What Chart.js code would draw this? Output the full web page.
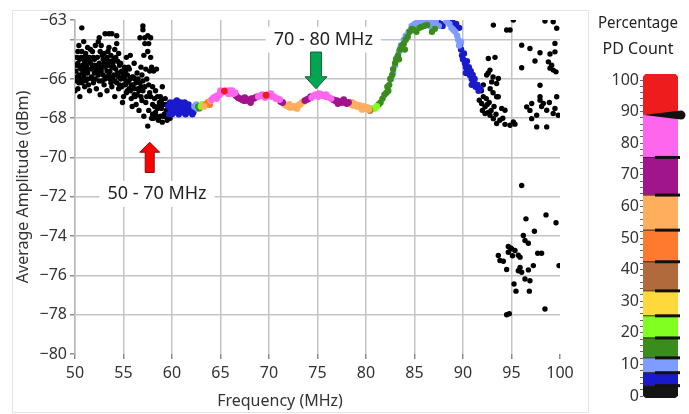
<!DOCTYPE html>
<html>
<head>
<meta charset="utf-8">
<script src="https://cdn.jsdelivr.net/npm/chart.js@4.4.1/dist/chart.umd.min.js"></script>
<style>
    body { margin: 0; background: #fff; }
    #wrap { position: relative; width: 689px; height: 414px; overflow: hidden; }
    #panel { position: absolute; left: 12px; top: 10px; width: 577px; height: 403px; border: 1px solid #e4e4e4; box-sizing: border-box; }
    #boxMain { position: absolute; left: 0; top: 0; width: 590px; height: 414px; }
    #boxBar { position: absolute; left: 598px; top: 0; width: 91px; height: 414px; }
</style>
</head>
<body>
<div id="wrap">
    <div id="panel"></div>
    <div id="boxMain"><canvas id="grafico"></canvas></div>
    <div id="boxBar"><canvas id="escala"></canvas></div>
</div>
<script>
// ticks
const xTicks = [50, 55, 60, 65, 70, 75, 80, 85, 90, 95, 100];
const yTicks = [-80, -78, -76, -74, -72, -70, -68, -66, -64, -63];

// colour scale of the PD count (percent)
const scaleEdges = [0, 3.3, 7.4, 12.1, 18.4, 25.4, 33.3, 42.5, 52.5, 63.6, 75.5, 88.9, 100];
const scaleColors = ['#151515', '#1a1acd', '#7f9cff', '#3a8c1c', '#80ff20', '#ffd93b', '#b06a3b', '#ff7a2e', '#ffae5e', '#a0148c', '#ff66ee', '#ee1c1c'];
const scaleTicks = [0, 10, 20, 30, 40, 50, 60, 70, 80, 90, 100];
const sliderValue = 88.9;

// points [MHz, dBm] per colour class
const blackLeft = [
    [50.0,-66.6],[50.1,-65.6],[50.1,-65.3],[50.2,-64.9],[50.2,-66.1],[50.2,-65.9],[50.3,-65.2],[50.3,-66.5],[50.3,-64.6],[50.4,-64.3],
    [50.4,-65.8],[50.4,-66.2],[50.5,-65.0],[50.5,-66.9],[50.5,-65.4],[50.6,-65.5],[50.6,-64.9],[50.6,-66.0],[50.7,-63.4],[50.7,-64.6],
    [50.7,-66.2],[50.8,-65.3],[50.8,-65.7],[50.9,-64.1],[50.9,-65.9],[50.9,-64.9],[51.0,-65.1],[51.0,-66.4],[51.0,-65.5],[51.1,-64.7],
    [51.1,-65.7],[51.1,-66.1],[51.2,-65.3],[51.2,-64.9],[51.3,-64.4],[51.3,-66.0],[51.3,-65.7],[51.4,-65.5],[51.4,-66.3],[51.5,-64.9],
    [51.5,-66.6],[51.5,-65.1],[51.6,-65.2],[51.6,-64.5],[51.7,-65.9],[51.7,-65.5],[51.8,-64.6],[51.8,-65.4],[51.8,-66.0],[51.9,-66.2],
    [51.9,-64.9],[52.0,-65.0],[52.0,-65.7],[52.0,-65.3],[52.1,-64.3],[52.1,-66.0],[52.2,-65.5],[52.2,-66.5],[52.3,-64.9],[52.3,-65.7],
    [52.4,-64.1],[52.4,-65.8],[52.4,-65.3],[52.5,-63.9],[52.5,-65.2],[52.5,-66.1],[52.6,-66.8],[52.6,-64.6],[52.6,-65.5],[52.7,-64.3],
    [52.7,-65.6],[52.8,-66.1],[52.8,-64.8],[52.8,-65.4],[52.9,-65.0],[52.9,-65.8],[53.0,-64.7],[53.0,-66.3],[53.0,-65.2],[53.1,-63.7],
    [53.1,-65.4],[53.1,-66.0],[53.2,-65.9],[53.2,-65.1],[53.3,-64.9],[53.3,-66.6],[53.3,-65.6],[53.4,-65.3],[53.4,-64.6],[53.5,-63.7],
    [53.5,-64.4],[53.5,-65.8],[53.6,-66.0],[53.6,-65.6],[53.6,-65.1],[53.7,-64.8],[53.7,-66.2],[53.8,-63.7],[53.8,-66.4],[53.8,-65.4],
    [53.9,-65.2],[53.9,-65.9],[54.0,-65.0],[54.0,-65.8],[54.0,-65.4],[54.1,-64.5],[54.1,-66.9],[54.1,-66.1],[54.2,-65.5],[54.2,-64.9],
    [54.3,-63.8],[54.3,-64.2],[54.3,-66.2],[54.3,-65.8],[54.4,-65.7],[54.4,-65.1],[54.5,-64.7],[54.5,-66.5],[54.5,-65.9],[54.6,-65.3],
    [54.6,-66.3],[54.7,-66.0],[54.7,-65.2],[54.8,-65.6],[54.8,-66.4],[54.9,-67.2],[54.9,-65.7],[55.0,-65.9],[55.0,-66.9],[55.0,-66.3],
    [55.1,-65.4],[55.1,-66.0],[55.2,-66.3],[55.2,-65.6],[55.3,-64.9],[55.3,-66.7],[55.3,-66.2],[55.4,-65.8],[55.4,-66.6],[55.5,-66.1],
    [55.5,-65.4],[55.6,-65.5],[55.6,-66.5],[55.7,-64.8],[55.7,-66.6],[55.7,-66.0],[55.8,-67.0],[55.8,-66.3],[55.9,-67.4],[55.9,-65.9],
    [56.0,-66.3],[56.0,-65.9],[56.1,-65.2],[56.1,-66.8],[56.1,-66.5],[56.2,-66.0],[56.2,-66.9],[56.3,-67.3],[56.3,-66.2],[56.4,-65.7],
    [56.4,-66.8],[56.5,-66.5],[56.5,-66.0],[56.6,-67.6],[56.6,-66.6],[56.7,-66.2],[56.7,-63.9],[56.8,-65.4],[56.8,-66.9],[56.8,-66.4],
    [56.9,-65.8],[56.9,-67.1],[57.0,-63.3],[57.0,-63.5],[57.0,-66.6],[57.0,-66.1],[57.1,-67.9],[57.1,-64.8],[57.2,-63.9],[57.2,-64.2],
    [57.2,-66.4],[57.3,-65.5],[57.3,-67.2],[57.4,-66.0],[57.4,-66.9],[57.5,-68.4],[57.5,-64.6],[57.5,-63.8],[57.6,-64.2],[57.6,-67.6],
    [57.6,-66.3],[57.7,-65.6],[57.7,-66.7],[57.8,-63.9],[57.8,-64.9],[57.8,-66.9],[57.9,-65.4],[57.9,-68.0],[58.0,-66.4],[58.0,-67.3],
    [58.0,-67.8],[58.1,-65.6],[58.1,-68.0],[58.2,-67.0],[58.2,-67.4],[58.3,-66.6],[58.3,-67.7],[58.4,-65.5],[58.4,-67.9],[58.5,-66.9],
    [58.5,-67.5],[58.6,-68.1],[58.6,-67.4],[58.7,-67.2],[58.8,-66.9],[58.8,-67.9],[58.9,-67.5],[58.9,-67.1],[59.0,-66.4],[59.0,-68.2],
    [59.1,-67.3],[59.1,-67.9],[59.2,-67.8],[59.3,-67.0],[59.3,-67.9],[59.4,-67.6],[59.4,-67.3],[59.5,-68.1],[59.6,-67.7],[59.7,-67.9],
    [59.7,-67.5],[59.8,-68.0],[59.9,-67.8]
];
const blackRight = [
    [93.13,-63.26],[94.5,-63.51],[94.85,-63.51],[95.19,-63.0],[98.45,-63.05],[99.3,-63.09],[99.66,-63.42],
    [96.05,-64.28],[96.9,-64.45],[97.94,-64.67],[98.97,-64.73],[99.48,-64.62],[99.48,-64.19],
    [97.42,-65.09],[96.05,-65.43],[98.8,-65.13],[99.14,-65.3],[99.3,-65.55],[99.59,-65.64],[98.97,-65.45],
    [92.61,-64.96],[93.3,-64.9],[92.78,-65.55],[92.44,-65.8],[92.96,-66.15],[93.47,-66.23],[93.64,-65.98],[92.6,-65.7],[93.1,-65.9],
    [97.94,-66.32],[91.68,-67.08],[91.92,-67.25],[92.27,-67.42],[92.1,-66.9],[91.9,-66.6],[92.1,-66.3],[92.8,-66.5],[93.1,-66.7],
    [93.47,-66.91],[93.64,-66.91],[93.99,-67.5],[94.33,-67.59],[92.4,-67.0],[92.7,-67.2],[93.2,-67.4],[93.4,-67.8],
    [92.27,-67.76],[92.78,-67.85],[93.13,-68.02],[93.47,-68.27],[94.33,-68.31],[94.85,-68.36],[95.19,-68.19],[95.36,-68.3],
    [93.8,-68.1],[92.9,-67.6],[92.5,-67.3],[94.1,-68.0],[92.0,-67.6],[92.6,-67.7],
    [96.56,-67.42],[97.08,-67.25],[97.94,-67.08],[98.28,-67.25],[98.63,-67.59],[97.6,-67.85],[97.08,-68.02],[97.6,-68.44],
    [98.63,-68.44],[97.94,-66.91],[99.66,-66.91],[99.3,-67.76],[99.48,-67.5],[99.83,-67.85],[96.9,-67.6],[98.1,-67.4],[98.9,-67.2]
];
const blackLow = [
    [96.05,-71.42],[96.49,-73.12],[98.56,-72.92],[99.59,-73.32],[97.36,-73.75],[96.22,-73.97],[96.39,-74.22],[96.74,-74.36],
    [94.67,-74.53],[95.02,-74.65],[95.36,-74.73],[94.67,-74.82],[93.64,-74.99],[93.81,-75.24],[94.16,-75.28],[95.88,-75.07],
    [95.70,-74.97],[97.7,-74.87],[98.1,-74.87],[97.25,-75.5],[95.88,-75.6],[95.7,-75.76],[96.05,-75.84],[96.74,-75.72],
    [94.5,-75.7],[96.39,-76.18],[96.9,-76.27],[95.26,-76.44],[95.46,-76.8],[96.84,-76.8],[98.45,-77.71],[94.5,-78.0],
    [94.77,-77.95],[99.9,-75.5],[94.9,-74.6],[95.1,-75.0]
];
const bluePts = [
    [59.6,-67.4],[59.7,-67.8],[59.8,-67.2],[59.9,-67.6],[60.0,-67.3],[60.0,-67.8],[60.1,-67.5],[60.2,-67.2],[60.3,-67.7],[60.4,-67.4],
    [60.5,-67.1],[60.5,-67.6],[60.6,-67.3],[60.7,-67.8],[60.8,-67.5],[60.9,-67.2],[61.0,-67.6],[61.0,-67.3],[61.1,-67.7],[61.2,-67.4],
    [61.3,-67.2],[61.3,-67.6],[61.4,-67.8],[61.5,-67.4],[61.6,-67.6],[61.7,-67.3],[61.8,-67.7],[61.9,-67.5],[62.0,-67.6],[62.1,-67.8],
    [62.2,-67.7],
    [87.4,-63.1],[87.7,-63.2],[87.9,-63.3],[88.9,-63.1],[89.1,-63.3],[89.3,-63.2],[89.6,-63.4],[89.7,-64.2],[89.8,-64.5],[89.9,-64.8],
    [90.0,-65.0],[90.1,-64.7],[90.2,-65.2],[90.3,-65.4],[90.4,-65.1],[90.5,-65.6],[90.6,-65.4],[90.7,-65.8],[90.8,-65.6],[90.9,-66.0],
    [91.0,-65.8],[91.1,-66.2],[91.2,-66.0],[91.3,-66.4],[91.5,-66.3],[91.6,-66.6],[91.8,-66.5],[90.3,-65.7],[90.9,-66.3]
];
const lightBluePts = [
    [62.3,-67.4],[62.5,-67.3],[62.6,-67.5],
    [82.6,-66.0],[82.8,-65.7],[83.0,-65.3],[83.2,-64.9],[83.4,-64.6],[83.6,-64.3],[83.9,-64.0],[84.1,-63.8],[84.4,-63.6],[84.7,-63.3],
    [85.0,-63.2],[85.3,-63.1],[85.6,-63.05],[86.0,-63.1],[86.4,-63.05],[86.8,-63.15],[87.2,-63.05],[87.5,-63.3],[88.3,-63.05],[88.6,-63.2],
    [88.8,-63.4],[89.0,-63.5],[89.2,-63.6],[89.4,-63.8],[89.5,-64.0],[89.6,-64.3],[89.8,-64.1],[85.8,-63.2],[86.6,-63.3],[87.0,-63.2]
];
const darkGreenPts = [
    [62.8,-67.5],[62.7,-67.4],
    [81.3,-67.3],[81.5,-67.2],[81.7,-67.0],[81.9,-66.8],[82.1,-66.7],[82.2,-66.4],[82.4,-66.3],[82.5,-66.0],[82.7,-65.8],[82.8,-65.5],
    [83.0,-65.2],[83.1,-65.0],[83.3,-64.8],[83.5,-64.5],[83.7,-64.3],[83.9,-64.2],[84.1,-64.0],[84.3,-63.85],[84.5,-63.6],[84.7,-63.45],
    [84.9,-63.5],[85.2,-63.6],[85.5,-63.4],[85.7,-63.35],[86.0,-63.3],[86.3,-63.25],[86.8,-63.6],[87.1,-63.45],[82.3,-66.6],[83.4,-65.0],
    [84.0,-64.5]
];
const lightGreenPts = [[63.0,-67.4],[63.1,-67.3],[80.7,-67.5],[80.9,-67.5],[81.1,-67.4]];
const brownPts = [[80.2,-67.5],[80.4,-67.6]];
const orangePts = [[63.5,-67.3],[63.7,-67.2],[63.9,-67.3]];
const lightOrangePts = [
    [63.3,-67.4],[64.0,-67.1],
    [71.6,-67.3],[71.8,-67.35],[72.0,-67.4],[72.2,-67.45],[72.4,-67.4],[72.6,-67.45],[72.8,-67.4],[73.0,-67.35],[73.2,-67.3],[73.4,-67.2],
    [73.6,-67.15],[72.1,-67.3],[72.9,-67.5],
    [78.3,-67.25],[78.5,-67.3],[78.7,-67.35],[78.9,-67.3],[79.1,-67.4],[79.3,-67.35],[79.5,-67.45],[79.7,-67.4],[79.9,-67.5],[80.1,-67.45],
    [80.3,-67.55],[78.6,-67.2],[79.6,-67.55]
];
const purplePts = [
    [66.6,-66.85],[66.8,-66.95],[67.0,-67.0],[67.2,-67.05],[67.4,-67.1],[67.6,-67.1],[67.8,-67.05],[68.0,-67.1],[68.2,-67.0],[68.4,-67.0],
    [68.6,-66.95],[68.8,-66.9],[67.5,-66.95],[68.1,-67.2],
    [71.2,-67.15],[71.4,-67.2],
    [73.7,-67.1],[73.9,-67.05],[74.1,-67.0],[74.3,-66.9],
    [76.6,-67.05],[76.8,-67.1],[77.0,-67.1],[77.2,-67.15],[77.4,-67.2],[77.6,-67.15],[77.8,-67.2],[78.0,-67.25],[78.2,-67.2],[77.1,-67.25],
    [77.7,-67.05]
];
const magentaPts = [
    [64.1,-67.05],[64.3,-66.95],[64.5,-66.9],[64.7,-66.85],[64.9,-66.8],[65.1,-66.7],[65.3,-66.65],[65.5,-66.6],[65.7,-66.65],[65.9,-66.6],
    [66.1,-66.7],[66.3,-66.75],[66.5,-66.7],[64.6,-67.0],[65.0,-66.6],[65.8,-66.75],[66.2,-66.6],
    [68.9,-66.9],[69.1,-66.85],[69.3,-66.8],[69.5,-66.85],[69.9,-66.8],[70.1,-66.85],[70.3,-66.9],[70.5,-66.9],[70.7,-67.0],[70.9,-67.0],
    [71.1,-67.05],[69.6,-66.95],[70.2,-66.75],
    [74.4,-66.95],[74.6,-66.85],[74.8,-66.8],[75.0,-66.8],[75.2,-66.75],[75.4,-66.8],[75.6,-66.85],[75.8,-66.9],[76.0,-66.9],[76.2,-66.95],
    [76.4,-67.0],[75.1,-66.9],[75.9,-66.8]
];
const redPts = [[65.4,-66.62],[69.7,-66.83]];

function pts(list) {
    return list.map(p => ({ x: p[0], y: p[1] }));
}

function minus(v) {
    return String(v).replace('-', '\u2212');
}

Chart.defaults.font.family = '"Noto Sans", "Open Sans", sans-serif';
Chart.defaults.font.size = 16;
Chart.defaults.color = '#333';

// text boxes and arrows on the plot
function labelBox(ctx, text, x, y) {
    ctx.save();
    ctx.font = '18px "Noto Sans", "Open Sans", sans-serif';
    const w = ctx.measureText(text).width + 16;
    ctx.fillStyle = '#fff';
    ctx.fillRect(x - w / 2, y - 13, w, 26);
    ctx.fillStyle = '#222';
    ctx.textAlign = 'center';
    ctx.textBaseline = 'middle';
    ctx.fillText(text, x, y);
    ctx.restore();
}

function arrow(ctx, x, yTail, yTip, fill, stroke, shaft, head, headLen) {
    const d = yTip > yTail ? 1 : -1;
    const yBase = yTip - d * headLen;
    ctx.save();
    ctx.beginPath();
    ctx.moveTo(x - shaft, yTail);
    ctx.lineTo(x + shaft, yTail);
    ctx.lineTo(x + shaft, yBase);
    ctx.lineTo(x + head, yBase);
    ctx.lineTo(x, yTip);
    ctx.lineTo(x - head, yBase);
    ctx.lineTo(x - shaft, yBase);
    ctx.closePath();
    ctx.fillStyle = fill;
    ctx.fill();
    ctx.lineWidth = 1;
    ctx.strokeStyle = stroke;
    ctx.stroke();
    ctx.restore();
}

const notas = {
    id: 'notas',
    afterDatasetsDraw(chart) {
        const ctx = chart.ctx, xs = chart.scales.x, ys = chart.scales.y;
        labelBox(ctx, '70 - 80 MHz', xs.getPixelForValue(75.6), ys.getPixelForValue(-64.0));
        labelBox(ctx, '50 - 70 MHz', xs.getPixelForValue(58.45), ys.getPixelForValue(-71.85));
        arrow(ctx, xs.getPixelForValue(74.85), ys.getPixelForValue(-64.63), ys.getPixelForValue(-66.5), '#00a651', '#1f5f35', 5.5, 11, 12);
        arrow(ctx, xs.getPixelForValue(57.7), ys.getPixelForValue(-70.76), ys.getPixelForValue(-69.22), '#ff0000', '#7a1010', 4.5, 10, 10);
        // x axis title, LabVIEW puts it left of centre
        ctx.save();
        ctx.font = '16px "Noto Sans", "Open Sans", sans-serif';
        ctx.fillStyle = '#333';
        ctx.textAlign = 'center';
        ctx.textBaseline = 'middle';
        ctx.fillText('Frequency (MHz)', 280, 401);
        ctx.restore();
    }
};

const grupos = [
    { data: redPts, color: scaleColors[11], r: 3.4 },
    { data: magentaPts, color: scaleColors[10], r: 3.4 },
    { data: purplePts, color: scaleColors[9], r: 3.4 },
    { data: lightOrangePts, color: scaleColors[8], r: 3.4 },
    { data: orangePts, color: scaleColors[7], r: 3.4 },
    { data: brownPts, color: scaleColors[6], r: 3.4 },
    { data: lightGreenPts, color: scaleColors[4], r: 3.4 },
    { data: darkGreenPts, color: scaleColors[3], r: 3.2 },
    { data: lightBluePts, color: scaleColors[2], r: 3.2 },
    { data: bluePts, color: scaleColors[1], r: 3.2 },
    { data: blackRight, color: '#000', r: 2.7 },
    { data: blackLow, color: '#000', r: 2.7 },
    { data: blackLeft, color: '#000', r: 2.7 }
];

new Chart(document.getElementById('grafico').getContext('2d'), {
    type: 'scatter',
    data: {
        datasets: grupos.map(g => ({
            data: pts(g.data),
            backgroundColor: g.color,
            borderWidth: 0,
            pointRadius: g.r,
            pointHoverRadius: g.r
        }))
    },
    options: {
        responsive: true,
        maintainAspectRatio: false,
        animation: false,
        layout: { padding: { top: 20, right: 30, left: 0, bottom: 0 } },
        plugins: { legend: { display: false }, tooltip: { enabled: false } },
        scales: {
            x: {
                type: 'linear',
                min: 50,
                max: 100,
                afterBuildTicks: s => { s.ticks = xTicks.map(v => ({ value: v })); },
                afterFit: s => { s.height = 60; },
                ticks: { padding: 5, maxRotation: 0 },
                border: { display: false },
                grid: {
                    color: c => (c.tick && c.tick.value === 100) ? 'rgba(0,0,0,0)' : '#c4c4c4',
                    lineWidth: 1.5,
                    tickColor: '#8c8c8c',
                    tickLength: 5
                }
            },
            y: {
                min: -80,
                max: -63,
                afterBuildTicks: s => { s.ticks = yTicks.map(v => ({ value: v })); },
                afterFit: s => { s.width = 75; },
                ticks: {
                    padding: 3,
                    callback: v => v === -64 ? '' : minus(v)
                },
                border: { display: true, color: '#b8b8b8', width: 1.5 },
                grid: {
                    color: c => (c.tick && (c.tick.value === -63 || c.tick.value === -80)) ? 'rgba(0,0,0,0)' : '#c4c4c4',
                    lineWidth: 1.5,
                    tickColor: '#8c8c8c',
                    tickLength: 5
                },
                title: {
                    display: true,
                    text: 'Average Amplitude (dBm)',
                    padding: { top: 14, bottom: 0 },
                    color: '#333'
                }
            }
        }
    },
    plugins: [notas]
});

// colour bar on the right
const cbMin = -0.6, cbMax = 101.9;

const marcas = {
    id: 'marcas',
    afterDatasetsDraw(chart) {
        const ctx = chart.ctx, ys = chart.scales.y, a = chart.chartArea;
        ctx.save();
        scaleEdges.slice(1, -2).forEach(v => {
            const y = ys.getPixelForValue(v);
            ctx.fillStyle = '#3a2a20';
            ctx.fillRect(a.left, y - 0.5, a.right - a.left, 1);
            ctx.fillStyle = '#111';
            ctx.fillRect(a.left + 12, y - 1.5, a.right - a.left - 10, 3);
        });
        const y = ys.getPixelForValue(sliderValue);
        ctx.beginPath();
        ctx.moveTo(a.left + 1, y);
        ctx.lineTo(a.right + 3, y - 4.5);
        ctx.arc(a.right + 3, y, 4.5, -Math.PI / 2, Math.PI / 2);
        ctx.closePath();
        ctx.fillStyle = '#111';
        ctx.fill();
        ctx.restore();
    }
};

const faixas = scaleColors.map((c, i) => ({
    data: [[i === 0 ? cbMin : scaleEdges[i], i === scaleColors.length - 1 ? cbMax : scaleEdges[i + 1]]],
    backgroundColor: c,
    borderWidth: 0,
    borderSkipped: false,
    borderRadius: i === 0 ? { bottomLeft: 5, bottomRight: 5 } : (i === scaleColors.length - 1 ? { topLeft: 5, topRight: 5 } : 0),
    barPercentage: 1,
    categoryPercentage: 1
}));

new Chart(document.getElementById('escala').getContext('2d'), {
    type: 'bar',
    data: { labels: [''], datasets: faixas },
    options: {
        responsive: true,
        maintainAspectRatio: false,
        animation: false,
        layout: { padding: { top: 0, right: 11, left: 0, bottom: 16 } },
        plugins: {
            legend: { display: false },
            tooltip: { enabled: false },
            title: {
                display: true,
                text: ['Percentage', 'PD Count'],
                font: { size: 16, weight: 'normal', lineHeight: 1.6 },
                color: '#222',
                padding: { top: 11, bottom: 11.8 }
            }
        },
        scales: {
            x: { display: false, stacked: true },
            y: {
                min: cbMin,
                max: cbMax,
                afterBuildTicks: s => {
                    const t = [];
                    for (let v = 0; v <= 100; v += 2) t.push({ value: v });
                    s.ticks = t;
                },
                afterFit: s => { s.width = 45; },
                ticks: {
                    padding: 1,
                    autoSkip: false,
                    callback: v => scaleTicks.indexOf(v) >= 0 ? String(v) : ''
                },
                border: { display: false },
                grid: { drawOnChartArea: false, tickLength: 3, tickColor: '#666', lineWidth: 1 }
            }
        }
    },
    plugins: [marcas]
});
</script>
</body>
</html>
